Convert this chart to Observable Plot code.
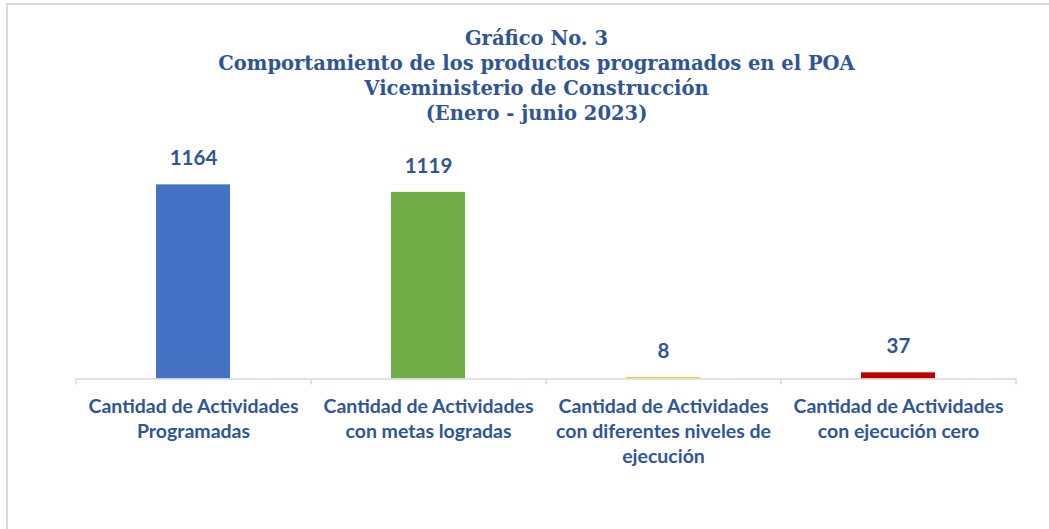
<!DOCTYPE html>
<html><head><meta charset="utf-8">
<script src="https://cdn.jsdelivr.net/npm/d3@7"></script>
<script src="https://cdn.jsdelivr.net/npm/@observablehq/plot@0.6"></script>
<style>
html,body{margin:0;padding:0;background:#fff;width:1049px;height:529px;overflow:hidden}
#frame{position:absolute;left:6px;top:3px;width:1100px;height:600px;border:2px solid #d9d9d9;box-sizing:border-box}
#title{position:absolute;left:0;top:25.5px;width:1073px;text-align:center;font-family:"DejaVu Serif",serif;font-weight:bold;font-size:19.5px;line-height:25px;color:#2F5597}
#chart{position:absolute;left:0;top:125.5px}
</style></head><body>
<div id="frame"></div>
<div id="title">Gráfico No. 3<br>Comportamiento de los productos programados en el POA<br>Viceministerio de Construcción<br>(Enero - junio 2023)</div>
<div id="chart"></div>
<script>
const categories = [
  "Cantidad de Actividades\nProgramadas",
  "Cantidad de Actividades\ncon metas logradas",
  "Cantidad de Actividades\ncon diferentes niveles de\nejecución",
  "Cantidad de Actividades\ncon ejecución cero"
];
const values = [1164, 1119, 8, 37];
const colors = ["#4472C4", "#70AD47", "#FFC000", "#C00000"];
const data = categories.map((c, i) => ({cat: c, value: values[i], color: colors[i]}));

const W = 1049, mL = 76, mR = 33;
const halfStep = (W - mL - mR) / categories.length / 2;
const textColor = "#2F5597";
const font = "Lato, 'Open Sans', sans-serif";

const plot = Plot.plot({
  width: W,
  height: 400,
  marginLeft: mL,
  marginRight: mR,
  marginTop: 19,
  marginBottom: 147.5,
  x: {domain: categories, paddingInner: 0.685, paddingOuter: 0.3425, axis: null},
  y: {domain: [0, 1400], axis: null},
  style: {fontFamily: font, background: "transparent", overflow: "visible"},
  marks: [
    Plot.barY(data, {x: "cat", y: "value", fill: d => d.color}),
    Plot.ruleY([0], {stroke: "#d9d9d9", strokeWidth: 1.5}),
    Plot.ruleX(categories, {x: d => d, y1: 0, y2: 0, insetBottom: -6, dx: -halfStep, stroke: "#d9d9d9", strokeWidth: 1.5}),
    Plot.ruleX(categories.slice(-1), {x: d => d, y1: 0, y2: 0, insetBottom: -6, dx: halfStep, stroke: "#d9d9d9", strokeWidth: 1.5}),
    Plot.text(data, {x: "cat", y: "value", text: d => String(d.value), dy: -26, fill: textColor, fontSize: 20.5, fontWeight: "bold"}),
    Plot.text(data, {x: "cat", y: () => 0, text: "cat", lineAnchor: "top", dy: 16, fill: textColor, fontSize: 19.5, fontWeight: "bold", lineHeight: 1.28})
  ]
});
document.getElementById("chart").appendChild(plot);
</script>
</body></html>
